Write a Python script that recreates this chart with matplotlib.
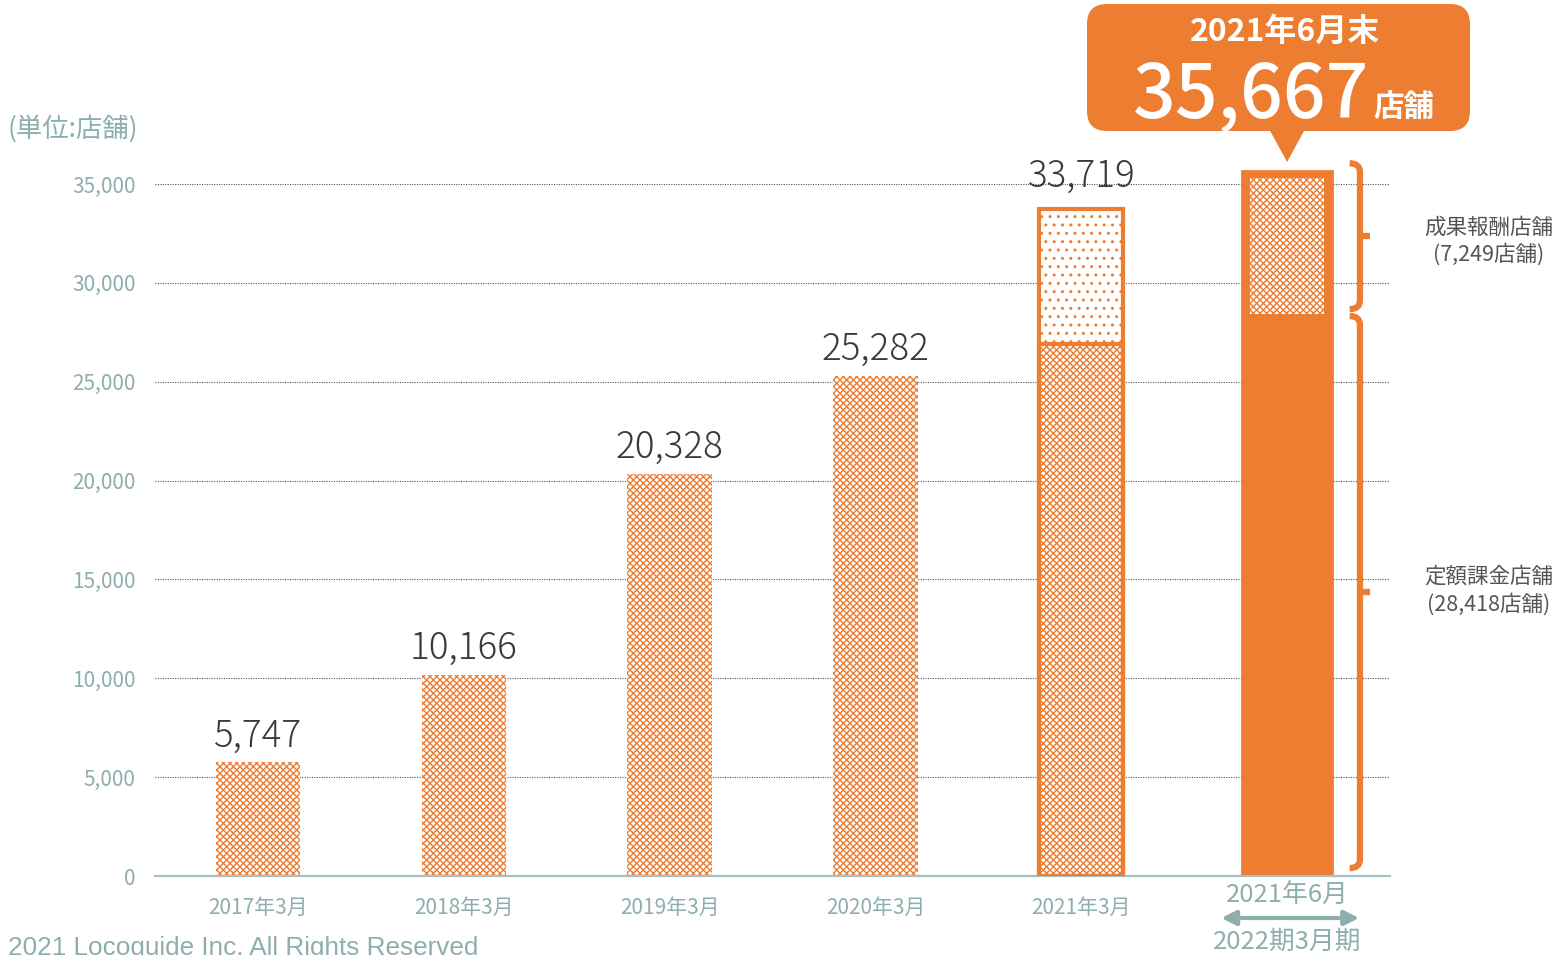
import numpy as np
import matplotlib
matplotlib.use('Agg')
import matplotlib.pyplot as plt
from matplotlib.patches import FancyBboxPatch, Polygon, PathPatch
from matplotlib.path import Path
import matplotlib.transforms as mtransforms

plt.rcParams['font.family'] = ['Noto Sans CJK JP', 'DejaVu Sans']
plt.rcParams['hatch.linewidth'] = 1.0

# data
periods = ['2017年3月', '2018年3月', '2019年3月', '2020年3月', '2021年3月']
totals = [5747, 10166, 20328, 25282, 33719]
mar2021_fixed = 26900          # 定額課金 part of 2021年3月
jun2021_fixed = 28418          # 定額課金店舗
jun2021_perf = 7249            # 成果報酬店舗
jun2021_total = jun2021_fixed + jun2021_perf
last_period = '2021年6月'
last_term = '2022期3月期'
yticks = [0, 5000, 10000, 15000, 20000, 25000, 30000, 35000]

ORANGE = '#ED7D31'
TEAL = '#8eaeae'
DARK = '#3a3a3a'

fig = plt.figure(figsize=(15.62, 9.55), dpi=100)
ax = fig.add_axes([155 / 1562, 79 / 955, 1235 / 1562, 711.8 / 955])
ax.set_xlim(-0.5, 5.5)
ax.set_ylim(0, 36000)

for s in ['top', 'right', 'left']:
    ax.spines[s].set_visible(False)
ax.spines['bottom'].set_color('#a9c0c0')
ax.spines['bottom'].set_linewidth(1.6)

ax.set_yticks(yticks)
ax.set_yticklabels([f'{v:,}' for v in yticks])
ax.tick_params(axis='y', length=0, pad=14, labelsize=15, labelcolor=TEAL)
ax.set_xticks(range(len(periods)))
ax.set_xticklabels(periods)
ax.tick_params(axis='x', length=0, pad=15, labelsize=15, labelcolor=TEAL)
ax.yaxis.grid(True, linestyle=(0, (1, 1.2)), color='#555555', lw=0.8)
ax.set_axisbelow(True)

# hatched bars
w = 0.41
x = np.arange(len(periods))
ax.bar(x[:4], totals[:4], width=w, facecolor='white', edgecolor=ORANGE,
       hatch='xxxxx', linewidth=0, zorder=2)

# 2021年3月: two parts + outline
ax.bar(x[4], mar2021_fixed, width=w, facecolor='white', edgecolor=ORANGE,
       hatch='xxxxx', linewidth=0, zorder=2)
ax.bar(x[4], totals[4] - mar2021_fixed, bottom=mar2021_fixed, width=w,
       facecolor='white', edgecolor=ORANGE, hatch='..', linewidth=0, zorder=2)
ax.bar(x[4], mar2021_fixed, width=w, facecolor='none', edgecolor=ORANGE,
       linewidth=3, zorder=3)
ax.bar(x[4], totals[4], width=w, facecolor='none', edgecolor=ORANGE,
       linewidth=3, zorder=3)

# value labels
for xi, v in zip(x, totals):
    ax.annotate(f'{v:,}', (xi, v), xytext=(0, 5 if xi < 4 else 10),
                textcoords='offset points', ha='center', va='bottom',
                fontsize=26.5, color=DARK, fontweight='light')

# 2021年6月 bar
w6 = 0.437
ax.bar(5, jun2021_total, width=w6, color=ORANGE, edgecolor=ORANGE,
       linewidth=2, zorder=2)
ax.bar(5, jun2021_perf - 350, bottom=jun2021_fixed, width=0.36,
       facecolor='white', edgecolor=ORANGE, hatch='xxxxx', linewidth=0, zorder=3)


def brace(xc, y0, y1, hw=0.05, hh=450):
    ym = (y0 + y1) / 2
    verts = [(xc - hw, y1), (xc, y1), (xc, y1 - hh),
             (xc, y0 + hh), (xc, y0), (xc - hw, y0)]
    codes = [Path.MOVETO, Path.CURVE3, Path.CURVE3,
             Path.LINETO, Path.CURVE3, Path.CURVE3]
    ax.add_patch(PathPatch(Path(verts, codes), facecolor='none',
                           edgecolor=ORANGE, lw=4.5, clip_on=False,
                           capstyle='butt', zorder=4))
    ax.plot([xc, xc + hw], [ym, ym], color=ORANGE, lw=4.5,
            solid_capstyle='butt', clip_on=False, zorder=4)
    return ym


bx = 5.354
m1 = brace(bx, jun2021_fixed + 250, jun2021_total + 380)
m2 = brace(bx, 400, jun2021_fixed - 100)
ax.text(5.98, m1 - 250, f'成果報酬店舗\n({jun2021_perf:,}店舗)', ha='center',
        va='center', fontsize=15.5, color='#555555', linespacing=1.3,
        clip_on=False)
ax.text(5.98, m2 + 80, f'定額課金店舗\n({jun2021_fixed:,}店舗)', ha='center',
        va='center', fontsize=15.5, color='#555555', linespacing=1.3,
        clip_on=False)

# last category label with term arrow
trans = mtransforms.blended_transform_factory(ax.transData, ax.transAxes)
ax.text(5, -0.027, last_period, transform=trans, ha='center', va='center',
        fontsize=18.5, color=TEAL)
ax.text(5, -0.092, last_term, transform=trans, ha='center', va='center',
        fontsize=18.5, color=TEAL)
ax.annotate('', xy=(4.68, -0.059), xytext=(5.35, -0.059), xycoords=trans,
            textcoords=trans,
            arrowprops=dict(arrowstyle='<|-|>', color=TEAL, lw=3,
                            mutation_scale=22, shrinkA=0, shrinkB=0))

# callout box (inches)
inch = fig.dpi_scale_trans
bar_x_in = ax.transData.transform((5, 0))[0] / fig.dpi
box = FancyBboxPatch((10.87, 8.24), 3.83, 1.27,
                     boxstyle='round,pad=0,rounding_size=0.2',
                     transform=inch, facecolor=ORANGE, edgecolor='none')
fig.patches.append(box)
tri = Polygon([(bar_x_in - 0.18, 8.26), (bar_x_in + 0.18, 8.26),
               (bar_x_in, 7.93)], closed=True, transform=inch,
              facecolor=ORANGE, edgecolor='none')
fig.patches.append(tri)
fig.text(12.85, 9.23, '2021年6月末', transform=inch, ha='center', va='center',
         fontsize=23, color='white', fontweight='bold')
fig.text(13.69, 8.38, f'{jun2021_total:,}', transform=inch, ha='right',
         va='baseline', fontsize=54, color='white', fontweight='medium')
fig.text(13.73, 8.38, '店舗', transform=inch, ha='left', va='baseline',
         fontsize=22, color='white', fontweight='bold')

# unit label and footer
fig.text(8 / 1562, 1 - 129 / 955, '(単位:店舗)', ha='left', va='center',
         fontsize=19, color=TEAL)
fig.text(8 / 1562, 1 - 936 / 955, '2021 Locoguide Inc. All Rights Reserved',
         ha='left', va='top', fontsize=18.8, color=TEAL,
         family=['Liberation Sans', 'DejaVu Sans'])

fig.savefig('out.png', dpi=100)
